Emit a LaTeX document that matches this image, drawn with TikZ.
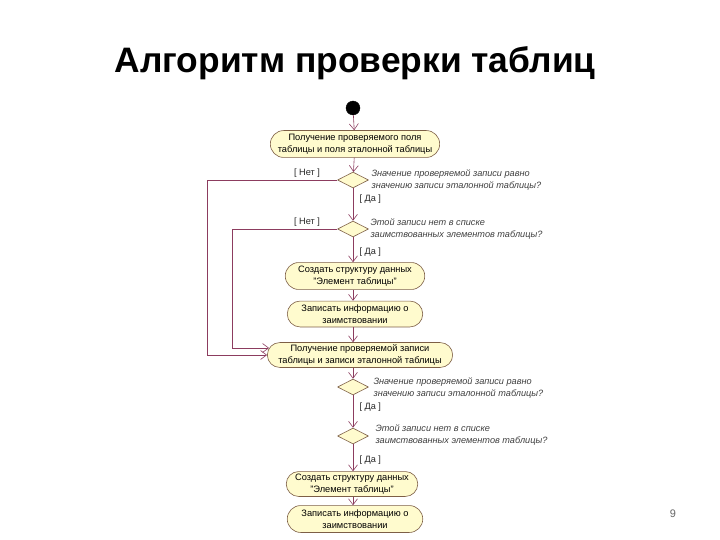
\documentclass[tikz,border=0pt]{standalone}
\usepackage{fontspec}
\setmainfont{Liberation Sans}
\usepackage{tikz}
\usetikzlibrary{shapes.misc,shapes.geometric,arrows.meta}
\definecolor{boxfill}{RGB}{255,251,206}
\definecolor{boxline}{RGB}{125,95,70}
\definecolor{flowline}{RGB}{140,60,95}
\tikzset{%
  sdot/.style={draw,shape=circle,fill=black,inner sep=0,minimum size=14},
  abox/.style={draw=boxline,fill=boxfill,shape=rounded rectangle,inner sep=0,align=center,
    font=\fontsize{9.3}{12.5}\selectfont,line width=.6pt},
  cond/.style={draw=boxline,fill=boxfill,shape=diamond,inner sep=0,minimum width=31,minimum height=16,line width=.6pt},
  qtext/.style={anchor=west,align=left,font=\fontsize{9.2}{12}\selectfont\itshape,text=black!75},
  guard/.style={font=\fontsize{9.2}{11}\selectfont,text=black!85},
  flow/.style={draw=flowline,line width=.6pt,-{Straight Barb[length=6pt,width=9pt]}},
  wire/.style={draw=flowline,line width=.6pt}
}
\begin{document}
\begin{tikzpicture}[x=1bp,y=-1bp]
    \useasboundingbox[fill=white] (0,0) rectangle (720,540);
    \node[font=\fontsize{35.5}{40}\selectfont\bfseries] (title) at (355,63) {Алгоритм проверки таблиц};
    \node[sdot] (s) at (353,108) {};
    \path
      (355,144) node[abox,minimum width=170,minimum height=27] (b1) {Получение проверяемого поля\\таблицы и поля эталонной таблицы}
      (353,180) node[cond] (d1) {}
      (353,229) node[cond] (d2) {}
      (355,276) node[abox,minimum width=140,minimum height=27] (b2) {Создать структуру данных\\"Элемент таблицы"}
      (355,314) node[abox,minimum width=136,minimum height=26] (b3) {Записать информацию о\\заимствовании}
      (360,355) node[abox,minimum width=186,minimum height=25] (b4) {Получение проверяемой записи\\таблицы и записи эталонной таблицы}
      (353,387) node[cond] (d3) {}
      (353,436) node[cond] (d4) {}
      (352,484) node[abox,minimum width=132,minimum height=25] (b5) {Создать структуру данных\\"Элемент таблицы"}
      (355,519) node[abox,minimum width=136,minimum height=27] (b6) {Записать информацию о\\заимствовании};
    \node[qtext] (q1) at (368,180) {Значение проверяемой записи равно\\значению записи эталонной таблицы?};
    \node[qtext] (q2) at (367,229) {Этой записи нет в списке\\заимствованных элементов таблицы?};
    \node[qtext] (q3) at (370,388) {Значение проверяемой записи равно\\значению записи эталонной таблицы?};
    \node[qtext] (q4) at (372,435) {Этой записи нет в списке\\заимствованных элементов таблицы?};
    \node[guard] (n1) at (307,173) {[ Нет ]};
    \node[guard] (n2) at (307,222) {[ Нет ]};
    \node[guard,anchor=west] (y1) at (356,199) {[ Да ]};
    \node[guard,anchor=west] (y2) at (356,252) {[ Да ]};
    \node[guard,anchor=west] (y3) at (356,407) {[ Да ]};
    \node[guard,anchor=west] (y4) at (356,460) {[ Да ]};
    \node[font=\fontsize{11}{13}\selectfont,text=black!60] (pg) at (673,514) {9};
    \coordinate (c1) at (207,355);
    \coordinate (c2) at (232,348);
    \draw[flow] (s) -- (b1);
    \draw[flow] (b1) -- (d1);
    \draw[flow] (d1) -- (d2);
    \draw[flow] (d2) -- (b2.north -| d2);
    \draw[flow] (b2.south -| d2) -- (b3.north -| d2);
    \draw[flow] (b3.south -| d2) -- (b4.north -| d2);
    \draw[flow] (b4.south -| d3) -- (d3);
    \draw[flow] (d3) -- (d4);
    \draw[flow] (d4) -- (b5.north -| d4);
    \draw[flow] (b5.south -| d4) -- (b6.north -| d4);
    \draw[wire] (d1.west) -| (c1);
    \draw[flow] (c1) -- (b4.west);
    \draw[wire] (d2.west) -| (c2);
    \draw[flow] (c2) -- ([xshift=2bp]b4.west |- c2);
  \end{tikzpicture}
\end{document}
